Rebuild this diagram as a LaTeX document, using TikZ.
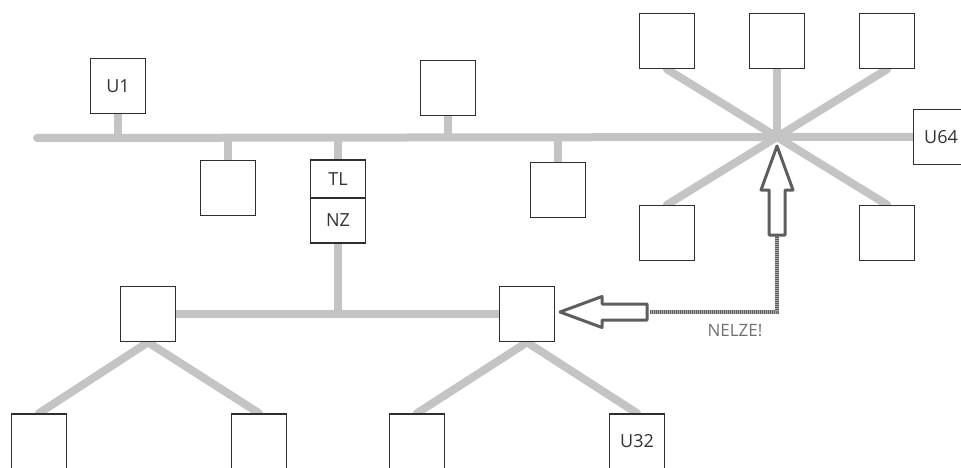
\documentclass[tikz,border=0pt]{standalone}
\usepackage{fontspec}
\setmainfont{Open Sans}
\definecolor{wire}{HTML}{C4C4C4}
\definecolor{boxline}{HTML}{2E2E2E}
\definecolor{arrowgray}{HTML}{5E5E5E}
\definecolor{hatchlight}{HTML}{A8A8A8}
\definecolor{labelgray}{HTML}{707070}
\pgfdeclarelayer{background}
\pgfsetlayers{background,main}
\begin{document}
\begin{tikzpicture}[x=1pt,y=-1pt,
  unit/.style={draw=boxline,line width=1.6pt,fill=white,minimum width=55pt,minimum height=55pt,inner sep=0pt,font=\fontsize{18}{20}\selectfont,text=black!80},
  half/.style={unit,minimum height=#1},
  wireline/.style={draw=wire,line width=8pt,line cap=round},
  hollow/.style={draw=arrowgray,line width=3pt,fill=white,line join=round},
  hatch/.style={draw=arrowgray,line width=4.5pt},
  hatchover/.style={draw=hatchlight,line width=4.5pt,dash pattern=on 0.5pt off 1.5pt}]
\useasboundingbox (0,0) rectangle (961,468);
% coordinates
\coordinate (busL) at (37,138);
\coordinate (hub) at (777,137);
% nodes
\node[unit] (u1) at (118,86) {U1};
\node[unit] (a1) at (448,88) {};
\node[unit] (b1) at (228,188) {};
\node[half=38pt] (tl) at (338,179) {TL};
\node[half=45pt] (nz) at (338,220.5) {NZ};
\node[unit] (b2) at (558,190) {};
\node[unit] (s1) at (667,41) {};
\node[unit] (s2) at (777,41) {};
\node[unit] (s3) at (887,41) {};
\node[unit] (s4) at (667,233) {};
\node[unit] (s5) at (887,233) {};
\node[unit] (u64) at (941,137) {U64};
\node[unit] (r1) at (148,314) {};
\node[unit] (r2) at (527,314) {};
\node[unit] (l1) at (39,441.5) {};
\node[unit] (l2) at (259,441.5) {};
\node[unit] (l3) at (417,441.5) {};
\node[unit] (u32) at (637,441.5) {U32};
% wires (behind boxes)
\begin{pgfonlayer}{background}
\path[wireline] (busL) -- (hub) -- (u64.west);
\path[wireline,line cap=butt] (u1.south) -- (u1.south |- busL);
\path[wireline,line cap=butt] (a1.south) -- (a1.south |- busL);
\path[wireline,line cap=butt] (b1.north) -- (b1.north |- busL);
\path[wireline,line cap=butt] (tl.north) -- (tl.north |- busL);
\path[wireline,line cap=butt] (b2.north) -- (b2.north |- busL);
\path[wireline] (hub) -- (s1.south);
\path[wireline,line cap=butt] (hub) -- (s2.south);
\path[wireline] (hub) -- (s3.south);
\path[wireline] (hub) -- (s4.north);
\path[wireline] (hub) -- (s5.north);
\path[wireline,line cap=butt] (nz.south) -- (nz.south |- r1);
\path[wireline,line cap=butt] (r1.east) -- (r2.west);
\path[wireline] (r1.south) -- (l1.north);
\path[wireline] (r1.south) -- (l2.north);
\path[wireline] (r2.south) -- (l3.north);
\path[wireline] (r2.south) -- (u32.north);
\end{pgfonlayer}
% hatched connector
\coordinate (upend) at (777,236);
\coordinate (corner) at (777,312);
\coordinate (leftend) at (650,312);
\draw[hatch] (upend) -- (corner) -- (leftend);
\draw[hatchover] (upend) -- (corner) -- (leftend);
% hollow arrows
\draw[hollow] (777,146) -- (793,190) -- (785,190) -- (785,235) -- (769,235) -- (769,190) -- (761,190) -- cycle;
\draw[hollow] (560,312) -- (602,296.5) -- (602,304) -- (647,304) -- (647,320) -- (602,320) -- (602,327.5) -- cycle;
\node[text=labelgray,font=\fontsize{17}{19}\selectfont,inner sep=0pt] (nelze) at (735,331) {NELZE!};
\end{tikzpicture}
\end{document}
